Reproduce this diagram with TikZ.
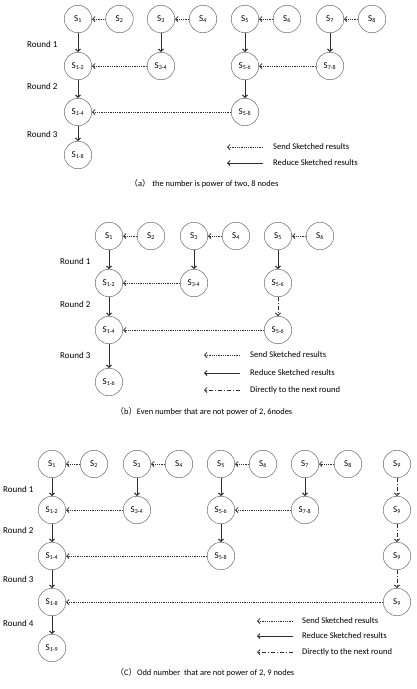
\documentclass[tikz,border=0pt]{standalone}
\usepackage{fontspec}
\setmainfont{Carlito}
\newfontfamily\cjk{Noto Sans CJK SC}
\usetikzlibrary{arrows.meta}
\definecolor{LineGray}{RGB}{45,45,45}
\definecolor{RingGray}{RGB}{105,105,105}
\tikzset{
  snode/.style={circle, draw=RingGray, line width=0.5pt, minimum size=27.5pt, inner sep=0pt,
    font=\fontsize{9}{10}\selectfont},
  sendarr/.style={-{Straight Barb[length=2.5pt, width=5pt]}, densely dotted, line width=0.8pt, LineGray},
  redarr/.style={-{Straight Barb[length=2.5pt, width=5pt]}, line width=0.9pt, LineGray},
  dirarr/.style={-{Straight Barb[length=2.5pt, width=5pt]}, dash pattern=on 4pt off 2pt on 1pt off 2pt, line width=0.8pt, LineGray},
  rlab/.style={anchor=west, font=\fontsize{9}{10}\selectfont, inner sep=0pt},
  legtxt/.style={anchor=west, font=\fontsize{8.6}{10}\selectfont, inner sep=0pt},
  captxt/.style={font=\fontsize{8.4}{10}\selectfont, inner sep=0pt},
}
\begin{document}
\begin{tikzpicture}[x=1pt, y=-1pt]
  \useasboundingbox (0,0) rectangle (416,689);
  % (a) eight nodes
  \foreach \i/\x in {1/78, 2/119.5, 3/161, 4/203, 5/245, 6/287, 7/330, 8/372}
    \node[snode] (a\i) at (\x,19) {S\textsubscript{\i}};
  \node[snode] (a12) at (78,66) {S\textsubscript{1-2}};
  \node[snode] (a34) at (161,66) {S\textsubscript{3-4}};
  \node[snode] (a56) at (245,66) {S\textsubscript{5-6}};
  \node[snode] (a78) at (330,66) {S\textsubscript{7-8}};
  \node[snode] (a14) at (78,112) {S\textsubscript{1-4}};
  \node[snode] (a58) at (245,112) {S\textsubscript{5-8}};
  \node[snode] (a18) at (78,155) {S\textsubscript{1-8}};
  \foreach \i/\j in {2/1, 4/3, 6/5, 8/7}
    \draw[sendarr] (a\i) -- (a\j);
  \foreach \i/\j in {1/12, 3/34, 5/56, 7/78, 12/14, 56/58, 14/18}
    \draw[redarr] (a\i) -- (a\j);
  \draw[sendarr] (a34) -- (a12);
  \draw[sendarr] (a78) -- (a56);
  \draw[sendarr] (a58) -- (a14);
  \node[rlab] (ar1) at (27,44) {Round 1};
  \node[rlab] (ar2) at (27,86) {Round 2};
  \node[rlab] (ar3) at (27,134) {Round 3};
  \coordinate (al1s) at (263,147); \coordinate (al1e) at (227,147);
  \coordinate (al2s) at (263,163); \coordinate (al2e) at (227,163);
  \draw[sendarr] (al1s) -- (al1e);
  \draw[redarr] (al2s) -- (al2e);
  \node[legtxt] (at1) at (273,147) {Send Sketched results};
  \node[legtxt] (at2) at (273,163) {Reduce Sketched results};
  \node[captxt] (acap) at (204,184) {{\cjk （}a{\cjk ）} the number is power of two, 8 nodes};
  % (b) six nodes
  \foreach \i/\x in {1/109, 2/151, 3/194, 4/236, 5/278, 6/320}
    \node[snode] (b\i) at (\x,236) {S\textsubscript{\i}};
  \node[snode] (b12) at (109,283) {S\textsubscript{1-2}};
  \node[snode] (b34) at (194,283) {S\textsubscript{3-4}};
  \node[snode] (b56) at (278,283) {S\textsubscript{5-6}};
  \node[snode] (b14) at (109,330) {S\textsubscript{1-4}};
  \node[snode] (b56n) at (278,330) {S\textsubscript{5-6}};
  \node[snode] (b16) at (109,382) {S\textsubscript{1-6}};
  \foreach \i/\j in {2/1, 4/3, 6/5}
    \draw[sendarr] (b\i) -- (b\j);
  \foreach \i/\j in {1/12, 3/34, 5/56, 12/14, 14/16}
    \draw[redarr] (b\i) -- (b\j);
  \draw[sendarr] (b34) -- (b12);
  \draw[sendarr] (b56n) -- (b14);
  \draw[dirarr] (b56) -- (b56n);
  \node[rlab] (br1) at (60,261) {Round 1};
  \node[rlab] (br2) at (60,304) {Round 2};
  \node[rlab] (br3) at (60,355) {Round 3};
  \coordinate (bl1s) at (240,355); \coordinate (bl1e) at (204,355);
  \coordinate (bl2s) at (240,373); \coordinate (bl2e) at (204,373);
  \coordinate (bl3s) at (240,390); \coordinate (bl3e) at (204,390);
  \draw[sendarr] (bl1s) -- (bl1e);
  \draw[redarr] (bl2s) -- (bl2e);
  \draw[dirarr] (bl3s) -- (bl3e);
  \node[legtxt] (bt1) at (250,355) {Send Sketched results};
  \node[legtxt] (bt2) at (250,373) {Reduce Sketched results};
  \node[legtxt] (bt3) at (250,390) {Directly to the next round};
  \node[captxt] (bcap) at (204,412) {{\cjk （}b{\cjk ）}Even number that are not power of 2, 6nodes};
  % (c) nine nodes
  \foreach \i/\x in {1/52, 2/94, 3/137, 4/179, 5/221, 6/263, 7/305, 8/348, 9/397}
    \node[snode] (c\i) at (\x,464) {S\textsubscript{\i}};
  \node[snode] (c12) at (52,510) {S\textsubscript{1-2}};
  \node[snode] (c34) at (137,510) {S\textsubscript{3-4}};
  \node[snode] (c56) at (221,510) {S\textsubscript{5-6}};
  \node[snode] (c78) at (305,510) {S\textsubscript{7-8}};
  \node[snode] (c9a) at (397,510) {S\textsubscript{9}};
  \node[snode] (c14) at (52,556) {S\textsubscript{1-4}};
  \node[snode] (c58) at (221,556) {S\textsubscript{5-8}};
  \node[snode] (c9b) at (397,556) {S\textsubscript{9}};
  \node[snode] (c18) at (52,602) {S\textsubscript{1-8}};
  \node[snode] (c9c) at (397,602) {S\textsubscript{9}};
  \node[snode] (c19) at (52,648) {S\textsubscript{1-9}};
  \foreach \i/\j in {2/1, 4/3, 6/5, 8/7}
    \draw[sendarr] (c\i) -- (c\j);
  \foreach \i/\j in {1/12, 3/34, 5/56, 7/78, 12/14, 56/58, 14/18, 18/19}
    \draw[redarr] (c\i) -- (c\j);
  \draw[sendarr] (c34) -- (c12);
  \draw[sendarr] (c78) -- (c56);
  \draw[sendarr] (c58) -- (c14);
  \draw[sendarr] (c9c) -- (c18);
  \draw[dirarr] (c9) -- (c9a);
  \draw[dirarr] (c9a) -- (c9b);
  \draw[dirarr] (c9b) -- (c9c);
  \node[rlab] (cr1) at (3,489) {Round 1};
  \node[rlab] (cr2) at (3,530) {Round 2};
  \node[rlab] (cr3) at (3,579) {Round 3};
  \node[rlab] (cr4) at (3,623) {Round 4};
  \coordinate (cl1s) at (293,621); \coordinate (cl1e) at (257,621);
  \coordinate (cl2s) at (293,636); \coordinate (cl2e) at (257,636);
  \coordinate (cl3s) at (293,652); \coordinate (cl3e) at (257,652);
  \draw[sendarr] (cl1s) -- (cl1e);
  \draw[redarr] (cl2s) -- (cl2e);
  \draw[dirarr] (cl3s) -- (cl3e);
  \node[legtxt] (ct1) at (302,621) {Send Sketched results};
  \node[legtxt] (ct2) at (302,636) {Reduce Sketched results};
  \node[legtxt] (ct3) at (302,652) {Directly to the next round};
  \node[captxt] (ccap) at (205,673) {{\cjk （}C{\cjk ）}Odd number\ \ that are not power of 2, 9 nodes};
\end{tikzpicture}
\end{document}
